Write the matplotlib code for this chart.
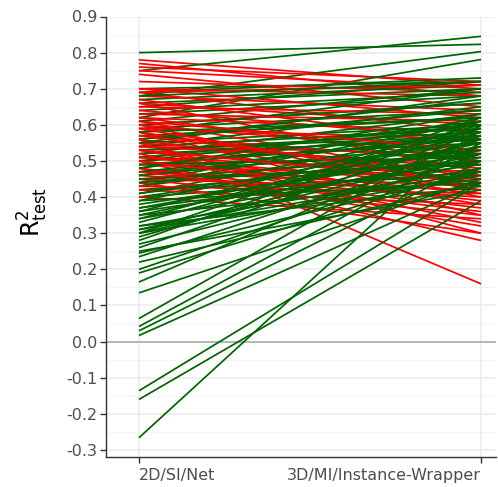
import matplotlib
matplotlib.use("Agg")
import matplotlib.pyplot as plt
import numpy as np

categories = ["2D/SI/Net", "3D/MI/Instance-Wrapper"]

red_left = [0.78, 0.77, 0.76, 0.75, 0.74, 0.72, 0.70, 0.70, 0.69, 0.69, 0.68, 0.67, 0.66, 0.66,
            0.65, 0.64, 0.63, 0.62, 0.62, 0.61, 0.60, 0.60, 0.59, 0.58, 0.58, 0.57, 0.56, 0.56,
            0.55, 0.55, 0.54, 0.54, 0.53, 0.53, 0.52, 0.51, 0.51, 0.50, 0.50, 0.49, 0.48, 0.48,
            0.47, 0.46, 0.45, 0.45, 0.44, 0.43, 0.42, 0.40, 0.57, 0.53, 0.50, 0.47, 0.61, 0.59]
red_right = [0.71, 0.68, 0.72, 0.70, 0.65, 0.69, 0.62, 0.68, 0.58, 0.71, 0.64, 0.55, 0.60, 0.47,
             0.63, 0.56, 0.61, 0.50, 0.58, 0.45, 0.52, 0.40, 0.56, 0.44, 0.35, 0.50, 0.16, 0.42,
             0.48, 0.30, 0.52, 0.49, 0.38, 0.45, 0.33, 0.47, 0.43, 0.28, 0.41, 0.45, 0.37, 0.32,
             0.43, 0.40, 0.35, 0.42, 0.30, 0.41, 0.38, 0.34, 0.46, 0.44, 0.39, 0.36, 0.53, 0.43]

green_left = [0.80, 0.75, 0.68, 0.62,
              0.70, 0.69, 0.67, 0.66, 0.65, 0.64, 0.63, 0.61, 0.68, 0.60,
              0.60, 0.59, 0.58, 0.57, 0.56, 0.55, 0.54, 0.53, 0.52, 0.51, 0.50,
              0.58, 0.56, 0.54, 0.52, 0.50, 0.55, 0.53, 0.51,
              0.49, 0.48, 0.47, 0.46, 0.45, 0.44, 0.43, 0.42, 0.41, 0.40, 0.40,
              0.49, 0.47, 0.45, 0.43, 0.42, 0.41, 0.48, 0.46, 0.44,
              0.39, 0.38, 0.37, 0.36, 0.35, 0.35, 0.34, 0.33, 0.32, 0.31, 0.30, 0.30, 0.29,
              0.39, 0.37, 0.36, 0.34, 0.32, 0.31, 0.30,
              0.27, 0.26, 0.245, 0.235, 0.22, 0.20, 0.19, 0.165, 0.135, 0.28, 0.25,
              0.064, 0.042, 0.03, 0.017, -0.136, -0.16, -0.266]
green_right = [0.823, 0.845, 0.803, 0.781,
               0.72, 0.73, 0.71, 0.70, 0.72, 0.69, 0.68, 0.70, 0.72, 0.66,
               0.66, 0.64, 0.70, 0.62, 0.67, 0.60, 0.65, 0.58, 0.63, 0.57, 0.61,
               0.62, 0.64, 0.59, 0.56, 0.55, 0.68, 0.57, 0.60,
               0.56, 0.60, 0.53, 0.58, 0.52, 0.62, 0.55, 0.50, 0.59, 0.54, 0.47,
               0.51, 0.57, 0.49, 0.61, 0.46, 0.53, 0.63, 0.55, 0.50,
               0.57, 0.52, 0.49, 0.60, 0.55, 0.45, 0.51, 0.58, 0.48, 0.53, 0.46, 0.62, 0.56,
               0.44, 0.54, 0.50, 0.59, 0.43, 0.47, 0.52,
               0.50, 0.58, 0.47, 0.54, 0.44, 0.52, 0.48, 0.57, 0.45, 0.61, 0.42,
               0.60, 0.55, 0.50, 0.44, 0.44, 0.39, 0.60]

yticks = [-0.3, -0.2, -0.1, 0.0, 0.1, 0.2, 0.3, 0.4, 0.5, 0.6, 0.7, 0.8, 0.9]

plt.rcParams['font.family'] = ['DejaVu Sans']

fig = plt.figure(figsize=(4.98, 4.87), dpi=100)
ax = fig.add_axes([106/498, 1-457/487, 390/498, (457-16.5)/487])

x = [1, 2]
ax.set_xlim(1 - 33/342, 2 + 15/342)
ax.set_ylim(-0.3 - 7/361, 0.9)

# grid
for v in np.arange(-0.35, 0.9, 0.1):
    ax.axhline(v, color="#F2F2F2", lw=0.6, zorder=0)
for v in yticks:
    ax.axhline(v, color="#EBEBEB", lw=1.1, zorder=0)
for xv in x:
    ax.axvline(xv, color="#EBEBEB", lw=1.1, zorder=0)
ax.axhline(0.0, color="#A6A6A6", lw=1.1, zorder=0.5)

# interleave draw order of the two groups
g_pairs = list(zip(green_left, green_right))
r_pairs = list(zip(red_left, red_right))
n = max(len(g_pairs), len(r_pairs))
for i in range(n):
    if i < len(g_pairs):
        l, r = g_pairs[i]
        ax.plot(x, [l, r], color="#006400", lw=1.25, solid_capstyle="butt", zorder=2)
    if i < len(r_pairs):
        l, r = r_pairs[i]
        ax.plot(x, [l, r], color="#FF0000", lw=1.25, solid_capstyle="butt", zorder=2)

ax.set_yticks(yticks)
ax.set_yticklabels([f"{v:.1f}" for v in yticks])
ax.set_xticks(x)
ax.set_xticklabels(categories)
ax.tick_params(axis="both", colors="#333333", labelcolor="#4D4D4D", labelsize=11.5,
               length=4, width=1)
ax.tick_params(axis="x", pad=4)
ax.tick_params(axis="y", pad=2)
xl = ax.get_xticklabels()
xl[0].set_ha("left")
xl[1].set_ha("right")

for s in ["top", "right"]:
    ax.spines[s].set_visible(False)
for s in ["left", "bottom"]:
    ax.spines[s].set_color("#333333")
    ax.spines[s].set_linewidth(1.0)

fig.text(33/498, 1-212/487, r"$\mathregular{R^2_{test}}$", fontsize=17, color="black",
         rotation=90, ha="center", va="center")

fig.savefig("out.png", dpi=100)
